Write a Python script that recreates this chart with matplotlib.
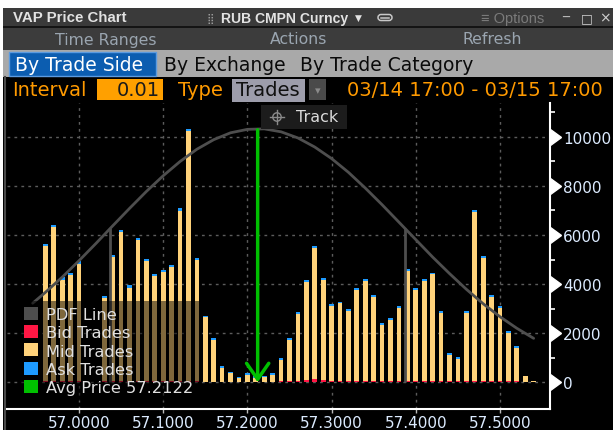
import matplotlib
matplotlib.use("Agg")
import matplotlib.pyplot as plt
from matplotlib.patches import Rectangle, Patch, Circle, FancyBboxPatch
from matplotlib.transforms import blended_transform_factory

# ---------------- data ----------------
price = [56.96, 56.97, 56.98, 56.99, 57.00, 57.03, 57.04, 57.05, 57.06, 57.07,
         57.08, 57.09, 57.10, 57.11, 57.12, 57.13, 57.14, 57.15, 57.16, 57.17,
         57.18, 57.19, 57.20, 57.21, 57.22, 57.23, 57.24, 57.25, 57.26, 57.27,
         57.28, 57.29, 57.30, 57.31, 57.32, 57.33, 57.34, 57.35, 57.36, 57.37,
         57.38, 57.39, 57.40, 57.41, 57.42, 57.43, 57.44, 57.45, 57.46, 57.47,
         57.48, 57.49, 57.50, 57.51, 57.52, 57.53, 57.54]
bid = [60, 60, 50, 50, 60, 60, 60, 60, 60, 60,
       60, 60, 60, 60, 60, 60, 60, 30, 30, 30,
       30, 20, 20, 20, 20, 20, 40, 40, 60, 80,
       120, 80, 60, 60, 60, 60, 60, 60, 60, 60,
       60, 60, 60, 60, 60, 60, 60, 60, 60, 60,
       60, 60, 60, 40, 40, 0, 0]
mid = [5470, 6270, 4130, 4330, 4770, 3360, 5050, 6070, 3800, 5740,
       4860, 4280, 4440, 4620, 6930, 10160, 4930, 2620, 1690, 550,
       330, 150, 280, 170, 190, 290, 870, 1680, 2730, 4000,
       5350, 4080, 3040, 3150, 2830, 3680, 4060, 3420, 2260, 2460,
       2970, 4490, 3680, 4060, 4330, 2770, 1060, 890, 2770, 6870,
       4990, 3420, 2980, 1960, 1350, 270, 40]
ask = [90, 90, 90, 90, 90, 80, 90, 90, 90, 90,
       90, 90, 90, 90, 90, 100, 90, 60, 70, 70,
       70, 60, 70, 60, 60, 70, 70, 70, 80, 80,
       80, 80, 80, 80, 80, 80, 80, 80, 80, 80,
       80, 80, 80, 80, 80, 80, 70, 70, 80, 90,
       80, 80, 80, 70, 70, 0, 0]

pdf_price = [56.945, 56.96, 56.98, 57.00, 57.02, 57.04, 57.06, 57.08, 57.10, 57.12,
             57.14, 57.16, 57.18, 57.20, 57.22, 57.24, 57.26, 57.28, 57.30, 57.32,
             57.34, 57.36, 57.38, 57.40, 57.42, 57.44, 57.46, 57.48, 57.50, 57.52, 57.54]
pdf_value = [3220, 3660, 4280, 4950, 5650, 6370, 7080, 7770, 8410, 8990,
             9490, 9880, 10160, 10300, 10320, 10200, 9950, 9580, 9110, 8550,
             7910, 7230, 6520, 5810, 5100, 4430, 3790, 3200, 2670, 2200, 1790]

sd_price = [57.037, 57.387]
sd_value = [6270, 6270]

avg_price = 57.2122
avg_top = 10280

x_ticks = [57.0, 57.1, 57.2, 57.3, 57.4, 57.5]
x_labels = ["57.0000", "57.1000", "57.2000", "57.3000", "57.4000", "57.5000"]
y_ticks = [0, 2000, 4000, 6000, 8000, 10000]
y_minor = [1000, 3000, 5000, 7000, 9000, 11000]

# ---------------- colours ----------------
C_MID = "#FFD27A"
C_BID = "#FF1744"
C_ASK = "#1E9BFF"
C_PDF = "#4E4E4E"
C_AVG = "#00C000"
C_LBL = "#DCEBFF"
ORANGE = "#FF9A00"

W, H = 613, 431
fig = plt.figure(figsize=(W / 100, H / 100), dpi=100, facecolor="white")

# ---------------- window chrome (pixel coords) ----------------
bg = fig.add_axes([0, 0, 1, 1], zorder=0)
bg.set_xlim(0, W)
bg.set_ylim(H, 0)
bg.axis("off")


def rect(x0, y0, x1, y1, fc, ec="none", lw=0, z=1):
    bg.add_patch(Rectangle((x0, y0), x1 - x0, y1 - y0, facecolor=fc,
                           edgecolor=ec, linewidth=lw, zorder=z))


rect(3, 9, W, H, "#000000")
rect(3, 9, W, 27, "#3a3a3a")
rect(3, 27, W, 29, "#141414")
rect(3, 29, W, 51, "#3c3c3c")
rect(3, 51, W, 78, "#a9a9a9")
rect(9, 53, 156, 77, "#0c5db0", ec="#5c9be0", lw=1, z=2)
rect(3, 78, W, H, "#000000")
bg.plot([5, 5], [78, H], color="#4a4a4a", lw=1.5, zorder=2)

lib = ["Liberation Sans", "DejaVu Sans"]
bg.text(13, 18.5, "VAP Price Chart", color="#E2E2E2", fontsize=10.8,
        fontweight="bold", family=lib, va="center", ha="left", zorder=3)
bg.text(206, 18.5, "\u28ff", color="#9a9a9a", fontsize=7.5, va="center",
        ha="left", zorder=3)
bg.text(221, 18.5, "RUB CMPN Curncy", color="#E2E2E2", fontsize=10.1,
        fontweight="bold", family=lib, va="center", ha="left", zorder=3)
bg.text(355, 18.5, "\u25bc", color="#E2E2E2", fontsize=6.5, va="center",
        ha="left", zorder=3)
# link icon
bg.add_patch(FancyBboxPatch((378, 15.5), 14, 6, boxstyle="round,pad=0,rounding_size=3",
                            facecolor="none", edgecolor="#c8c8c8", lw=1.1, zorder=3))
bg.plot([381, 389], [18.5, 18.5], color="#c8c8c8", lw=1.1, zorder=3)
bg.text(481, 18.5, "\u2261 Options", color="#7a7a7a", fontsize=10.5,
        family=lib, va="center", ha="left", zorder=3)
bg.text(562, 18.5, "_", color="#bdbdbd", fontsize=10, va="bottom",
        ha="left", zorder=3)
bg.text(581, 18.5, "\u25a1", color="#d0d0d0", fontsize=9, va="center",
        ha="left", zorder=3)
bg.text(599, 18.5, "\u00d7", color="#d0d0d0", fontsize=10, va="center",
        ha="left", zorder=3)

for txt, cx in [("Time Ranges", 106), ("Actions", 299), ("Refresh", 492)]:
    bg.text(cx, 40, txt, color="#9aa5b0", fontsize=11.3, va="center",
            ha="center", zorder=3)

bg.text(15, 65.5, "By Trade Side", color="white", fontsize=13.5,
        va="center", ha="left", zorder=3)
bg.text(164, 65.5, "By Exchange", color="#0a0a0a", fontsize=13.5,
        va="center", ha="left", zorder=3)
bg.text(300, 65.5, "By Trade Category", color="#0a0a0a", fontsize=13.5,
        va="center", ha="left", zorder=3)

bg.text(12, 91, "Interval", color=ORANGE, fontsize=14, va="center",
        ha="left", zorder=3)
rect(97, 80, 163, 101, "#FFA000", z=2)
bg.text(160, 91, "0.01", color="#1a1a1a", fontsize=14, va="center",
        ha="right", zorder=3)
bg.text(178, 91, "Type", color=ORANGE, fontsize=14, va="center",
        ha="left", zorder=3)
rect(232, 80, 305, 103, "#9d9dab", z=2)
bg.text(236, 91, "Trades", color="#111111", fontsize=14, va="center",
        ha="left", zorder=3)
rect(309, 80, 326, 101, "#4a4a4a", z=2)
bg.text(317.5, 91, "\u25be", color="#8a8a8a", fontsize=8, va="center",
        ha="center", zorder=3)
bg.text(347, 91, "03/14 17:00 - 03/15 17:00", color=ORANGE, fontsize=14,
        va="center", ha="left", zorder=3)

# ---------------- chart ----------------
ax_left, ax_right, ax_top, ax_bottom = 7, 550, 104, 410
ax = fig.add_axes([ax_left / W, 1 - ax_bottom / H,
                   (ax_right - ax_left) / W, (ax_bottom - ax_top) / H], zorder=1)
ax.set_facecolor("none")
ax.set_xlim(56.9145, 57.5594)
ax.set_ylim(-1087, 11373)

bw = 0.0056
bottom_mid = bid
bottom_ask = [b + m for b, m in zip(bid, mid)]
ax.bar(price, bid, width=bw, color=C_BID, linewidth=0, zorder=3)
ax.bar(price, mid, width=bw, bottom=bottom_mid, color=C_MID, linewidth=0, zorder=3)
ax.bar(price, ask, width=bw, bottom=bottom_ask, color=C_ASK, linewidth=0, zorder=3)

ax.plot(pdf_price, pdf_value, color=C_PDF, lw=2, zorder=4, solid_capstyle="round")
ax.vlines(sd_price, 0, sd_value, color=C_PDF, lw=2, zorder=4)

ax.annotate("", xy=(avg_price, 0), xytext=(avg_price, avg_top),
            arrowprops=dict(arrowstyle="->,head_length=1.15,head_width=0.8",
                            color=C_AVG, lw=2.5, shrinkA=0, shrinkB=0),
            zorder=6)

# grid
ax.set_xticks(x_ticks)
ax.set_xticklabels(x_labels)
ax.set_yticks(y_ticks)
ax.set_yticks(y_minor, minor=True)
ax.grid(True, which="major", color="#5c5c5c", linestyle=(0, (2, 3)), lw=1)
ax.set_axisbelow(True)

for s in ["top", "left"]:
    ax.spines[s].set_visible(False)
for s in ["bottom", "right"]:
    ax.spines[s].set_color("white")
    ax.spines[s].set_linewidth(1.5)

ax.yaxis.tick_right()
ax.tick_params(axis="y", which="major", length=0, pad=9.5, labelsize=11,
               labelcolor=C_LBL)
ax.tick_params(axis="y", which="minor", length=3.5, width=1.2, color="white",
               direction="out")
ax.tick_params(axis="x", which="major", length=3, width=1, color="#bbbbbb",
               pad=1, labelsize=11, labelcolor=C_LBL)

# triangle markers at major y ticks
tr = blended_transform_factory(ax.transAxes, ax.transData)
ax.plot([1] * len(y_ticks), y_ticks, linestyle="none", marker=9,
        markersize=11, color="white", transform=tr, clip_on=False, zorder=7)

# legend
handles = [Patch(facecolor=C_PDF, edgecolor="none", label="PDF Line"),
           Patch(facecolor=C_BID, edgecolor="none", label="Bid Trades"),
           Patch(facecolor=C_MID, edgecolor="none", label="Mid Trades"),
           Patch(facecolor=C_ASK, edgecolor="none", label="Ask Trades"),
           Patch(facecolor=C_AVG, edgecolor="none", label="Avg Price 57.2122")]
leg = ax.legend(handles=handles, loc="lower left",
                bbox_to_anchor=((18 - ax_left) / (ax_right - ax_left),
                                (ax_bottom - 402) / (ax_bottom - ax_top)),
                borderaxespad=0, fontsize=11.7, labelcolor="#E0E0E0",
                handlelength=0.85, handleheight=0.85, handletextpad=0.55,
                labelspacing=0.2, borderpad=0.35, frameon=True,
                fancybox=False, facecolor="#000000", edgecolor="none",
                framealpha=0.5)
leg.set_zorder(8)

# ---------------- overlay (Track button) ----------------
ov = fig.add_axes([0, 0, 1, 1], zorder=2)
ov.set_xlim(0, W)
ov.set_ylim(H, 0)
ov.axis("off")
ov.add_patch(Rectangle((261, 106), 86, 24, facecolor="#1c1c1c",
                       edgecolor="none"))
# crosshair icon
ov.add_patch(Circle((277, 118), 4.2, facecolor="none", edgecolor="#8a8a8a", lw=1))
ov.plot([270, 284], [118, 118], color="#8a8a8a", lw=1)
ov.plot([277, 277], [111, 125], color="#8a8a8a", lw=1)
ov.text(296, 118, "Track", color="#DADADA", fontsize=11.5, va="center",
        ha="left")

fig.savefig("out.png", dpi=100, facecolor="white")
